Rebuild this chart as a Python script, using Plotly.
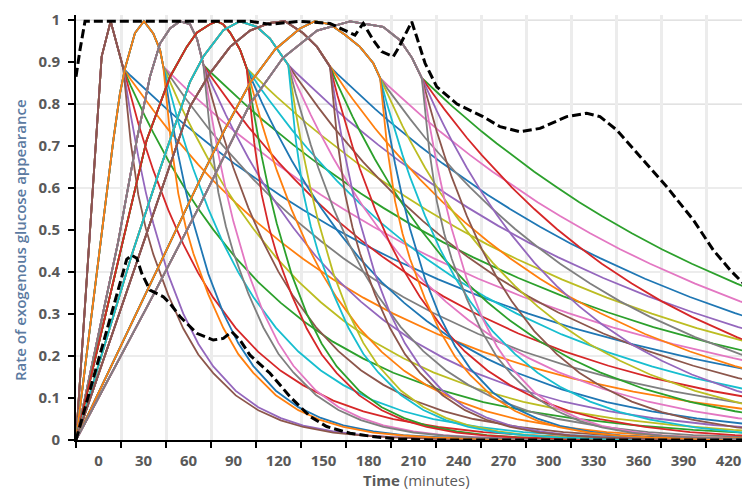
import plotly.graph_objects as go

# ---------------- data ----------------
TAB10 = ["#1f77b4", "#ff7f0e", "#2ca02c", "#d62728", "#9467bd",
         "#8c564b", "#e377c2", "#7f7f7f", "#bcbd22", "#17becf"]

# Shared rise / peak path of each of the 8 groups (minutes, rate); ends at the branch point
PATH_T = [
    [-15, 2.1, 8.1, 16.5],
    [-15, 9.9, 14.3, 17.7, 24.3, 30.3, 36.5, 41.0, 43.2],
    [-15, 13.0, 25.5, 34.3, 41.0, 47.7, 54.3, 61.0, 65.7, 69.9],
    [-15, 32.1, 47.7, 58.8, 65.5, 74.3, 78.8, 83.0, 87.7, 94.3, 98.8],
    [-15, 22.1, 41.0, 61.0, 69.9, 83.2, 94.3, 105.5, 114.3, 122.1, 126.5],
    [-15, 61.0, 74.3, 87.7, 101.0, 114.3, 124.3, 136.3, 145.7, 154.3],
    [-15, 34.3, 67.7, 84.3, 101.0, 117.7, 134.3, 144.3, 154.3, 164.3, 174.3, 183.2, 187.7],
    [-15, 34.3, 67.7, 101.0, 123.0, 145.7, 167.7, 189.7, 201.0, 209.0, 215.5],
]
PATH_Y = [
    [0, 0.913, 0.997, 0.885],
    [0, 0.714, 0.825, 0.885, 0.969, 0.997, 0.968, 0.929, 0.889],
    [0, 0.47, 0.714, 0.865, 0.944, 0.98, 0.997, 0.99, 0.955, 0.893],
    [0, 0.714, 0.865, 0.936, 0.97, 0.99, 0.997, 0.99, 0.97, 0.93, 0.885],
    [0, 0.44, 0.645, 0.853, 0.913, 0.976, 0.997, 0.984, 0.956, 0.917, 0.893],
    [0, 0.794, 0.873, 0.936, 0.975, 0.993, 0.997, 0.969, 0.936, 0.889],
    [0, 0.37, 0.62, 0.74, 0.85, 0.93, 0.98, 0.997, 0.99, 0.965, 0.936, 0.897, 0.862],
    [0, 0.33, 0.56, 0.80, 0.91, 0.975, 0.997, 0.984, 0.952, 0.91, 0.862],
]

# Minutes after the branch point, and fraction of the branch value for the 6 series of a group
DECAY_OFFSETS = [0, 5, 10, 15, 20, 30, 40, 50, 60, 75, 90, 105, 120, 140, 160, 180,
                 210, 240, 270, 300, 340, 380, 420]
DECAY_1 = [1, 0.980, 0.961, 0.942, 0.923, 0.887, 0.852, 0.819, 0.787, 0.741, 0.698, 0.657,
           0.619, 0.571, 0.527, 0.487, 0.432, 0.383, 0.340, 0.301, 0.257, 0.219, 0.186]
DECAY_2 = [1, 0.970, 0.942, 0.914, 0.887, 0.835, 0.787, 0.741, 0.698, 0.638, 0.583, 0.533,
           0.487, 0.432, 0.383, 0.340, 0.284, 0.237, 0.198, 0.165, 0.130, 0.102, 0.080]
DECAY_3 = [1, 0.953, 0.909, 0.867, 0.827, 0.752, 0.684, 0.622, 0.566, 0.490, 0.425, 0.369,
           0.320, 0.264, 0.219, 0.181, 0.136, 0.102, 0.077, 0.058, 0.040, 0.027, 0.018]
DECAY_4 = [1, 0.923, 0.852, 0.787, 0.726, 0.619, 0.527, 0.449, 0.383, 0.301, 0.237, 0.186,
           0.147, 0.106, 0.077, 0.056, 0.035, 0.021, 0.013, 0.008, 0.004, 0.002, 0.001]
DECAY_5 = [1, 0.874, 0.763, 0.667, 0.583, 0.445, 0.340, 0.259, 0.198, 0.132, 0.088, 0.059,
           0.039, 0.023, 0.013, 0.008, 0.003, 0.002, 0.001, 0.0, 0.0, 0.0, 0.0]
DECAY_PEAK = [1, 0.80, 0.66, 0.57, 0.50, 0.39, 0.30, 0.23, 0.18, 0.12, 0.08, 0.053,
              0.035, 0.02, 0.012, 0.007, 0.003, 0.0015, 0.0007, 0.0003, 0.0, 0.0, 0.0]
DECAYS = [DECAY_1, DECAY_2, DECAY_3, DECAY_4, DECAY_5, DECAY_PEAK]

# Black dashed curves
UPPER_T = [-15, -12.3, -9, 101, 114.3, 134.3, 154.3, 165.5, 171, 176.5, 183.2, 188.8, 196.5,
           199.9, 208.8, 212.1, 217.7, 225.5, 239, 256.3, 267.7, 281, 294.3, 312.1, 325.5,
           334.3, 345.5, 361, 378.8, 396.5, 409.9, 421, 434.3]
UPPER_Y = [0.865, 0.93, 0.997, 0.997, 0.99, 0.997, 0.992, 0.972, 0.964, 0.992, 0.952, 0.925,
           0.913, 0.933, 0.996, 0.96, 0.897, 0.841, 0.80, 0.77, 0.746, 0.734, 0.742, 0.770,
           0.778, 0.770, 0.738, 0.675, 0.603, 0.524, 0.452, 0.405, 0.357]
LOWER_T = [-15, 18.8, 22.1, 25.5, 28.8, 34.3, 43.2, 47.7, 54.3, 65.5, 76.5, 83.2, 88.8, 94.3,
           101, 114.3, 127.7, 141, 152.1, 167.7, 185.5, 201, 220, 435]
LOWER_Y = [0, 0.43, 0.44, 0.433, 0.397, 0.357, 0.341, 0.325, 0.294, 0.254, 0.238, 0.242, 0.258,
           0.238, 0.202, 0.159, 0.103, 0.056, 0.032, 0.016, 0.007, 0.002, 0.0, 0.0]

Y_GRID = [0.2, 0.4, 0.6, 0.8, 1.0]

# ---------------- figure ----------------
fig = go.Figure()
for g in range(len(PATH_T)):
    t0 = PATH_T[g][-1]
    y0 = PATH_Y[g][-1]
    for j, frac in enumerate(DECAYS):
        xs = PATH_T[g] + [t0 + d for d in DECAY_OFFSETS[1:]]
        ys = PATH_Y[g] + [y0 * f for f in frac[1:]]
        fig.add_trace(go.Scatter(
            x=xs, y=ys, mode="lines", hoverinfo="skip",
            line=dict(color=TAB10[(6 * g + j) % 10], width=1.8)))

for tx, ty in ((UPPER_T, UPPER_Y), (LOWER_T, LOWER_Y)):
    fig.add_trace(go.Scatter(x=tx, y=ty, mode="lines", hoverinfo="skip",
                             line=dict(color="black", width=3, dash="9px,4px")))

for v in Y_GRID:
    fig.add_shape(type="line", xref="paper", x0=0, x1=1, yref="y", y0=v, y1=v,
                  line=dict(color="#d9d9d9", width=1.2), layer="below")

tick_font = dict(family="Open Sans", size=15, color="#595959", weight="bold")

# the page body adds an 8 px offset, so the figure is 742 x 484
fig.update_layout(
    width=742, height=484,
    margin=dict(l=68, r=0, t=7, b=52, autoexpand=False),
    paper_bgcolor="white", plot_bgcolor="white",
    showlegend=False,
    xaxis=dict(
        range=[-15, 434.3], tickmode="linear", tick0=0, dtick=30,
        ticks="", showgrid=False, zeroline=False, automargin=False,
        showline=True, linecolor="black", linewidth=2,
        tickfont=tick_font, ticklabelstandoff=6,
        minor=dict(tick0=-15, dtick=30, ticks="outside", ticklen=6, tickwidth=2,
                   tickcolor="black", showgrid=True, gridcolor="#ececec", gridwidth=3),
    ),
    yaxis=dict(
        range=[0, 1.012], tickmode="linear", tick0=0, dtick=0.1,
        ticks="outside", ticklen=6, tickwidth=2, tickcolor="black",
        showgrid=False, zeroline=False, automargin=False,
        showline=True, linecolor="black", linewidth=2,
        tickfont=tick_font, ticklabelstandoff=5,
    ),
    annotations=[
        dict(text="Rate of exogenous glucose appearance", xref="paper", yref="paper",
             x=-0.0831, y=0.4706, xanchor="center", yanchor="middle", textangle=-90,
             showarrow=False,
             font=dict(family="Open Sans", size=15, color="#5b7aa1", weight=600)),
        dict(text="<b>Time</b> (minutes)", xref="paper", yref="paper",
             x=0.5045, y=-0.094, xanchor="center", yanchor="middle", showarrow=False,
             font=dict(family="Open Sans", size=15, color="#595959")),
    ],
)

fig.write_html("out.html")
